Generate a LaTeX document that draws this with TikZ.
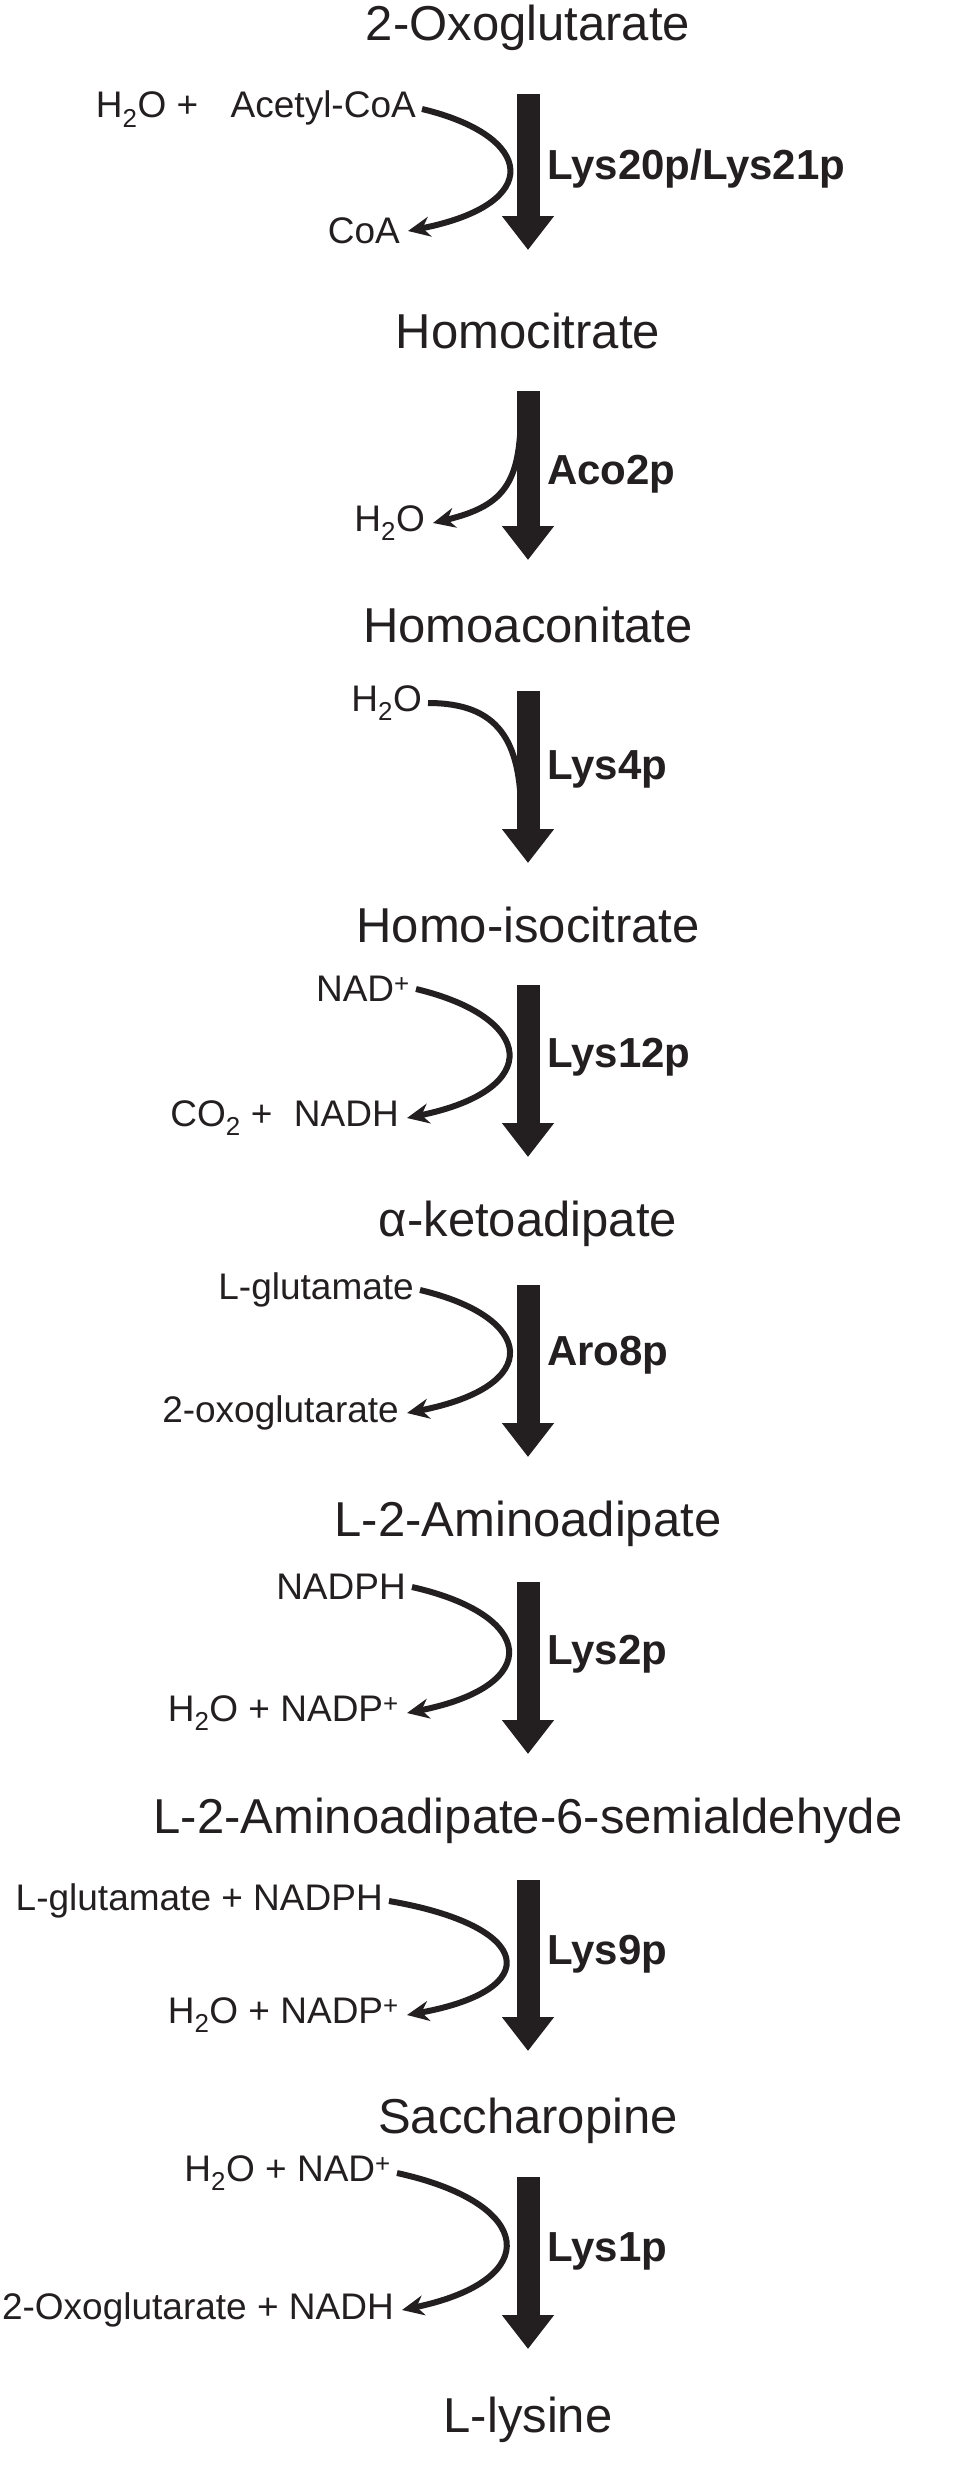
\documentclass[tikz,border=0pt]{standalone}
\usepackage{fontspec}
\setmainfont{Liberation Sans}
\usetikzlibrary{arrows.meta}
\definecolor{ink}{HTML}{231F20}
\begin{document}
\begin{tikzpicture}[x=1pt,y=-1pt,
  met/.style={font=\fontsize{49}{54}\selectfont,text=ink,inner sep=0},
  lab/.style={font=\fontsize{37}{42}\selectfont,text=ink,anchor=east,inner sep=0},
  enz/.style={font=\fontsize{42}{46}\selectfont\bfseries,text=ink,anchor=west,inner sep=0},
  main/.style={draw=ink,line width=23pt,-{Triangle[width=50pt,length=34pt]}},
  curv/.style={draw=ink,line width=6pt,-{Stealth[length=22pt,width=20pt]}},
  curvn/.style={draw=ink,line width=6pt}]
\useasboundingbox (0,0) rectangle (977,2465);
% metabolites
\node[met] (m0) at (528,28) {2-Oxoglutarate};
\node[met] (m1) at (528,331) {Homocitrate};
\node[met] (m2) at (528,625) {Homoaconitate};
\node[met] (m3) at (528,925) {Homo-isocitrate};
\node[met] (m4) at (528,1224) {α-ketoadipate};
\node[met] (m5) at (528,1524) {L-2-Aminoadipate};
\node[met] (m6) at (528,1821) {L-2-Aminoadipate-6-semialdehyde};
\node[met] (m7) at (528,2121) {Saccharopine};
\node[met] (m8) at (528,2420) {L-lysine};
% main arrows
\foreach \i/\a/\b in {1/94/250,2/391/560,3/691/863,4/985/1157,5/1285/1457,6/1582/1754,7/1880/2051,8/2177/2349}{
  \coordinate (t\i) at (528,\a); \coordinate (b\i) at (528,\b);
  \draw[main] (t\i) -- (b\i);
}
% enzymes
\node[enz] (e1) at (547,169) {Lys20p/Lys21p};
\node[enz] (e2) at (547,474) {Aco2p};
\node[enz] (e3) at (547,769) {Lys4p};
\node[enz] (e4) at (547,1057) {Lys12p};
\node[enz] (e5) at (547,1355) {Aro8p};
\node[enz] (e6) at (547,1654) {Lys2p};
\node[enz] (e7) at (547,1954) {Lys9p};
\node[enz] (e8) at (547,2251) {Lys1p};
% step 1
\node[lab] (s1) at (416,109) {H\textsubscript{2}O +\hspace{0.6em} Acetyl-CoA};
\node[lab] (p1) at (400,231) {CoA};
\draw[curv] ([xshift=6pt]s1.east) .. controls (535,136) and (545,204) .. ([xshift=8pt]p1.east);
% step 2
\node[lab] (p2) at (425,523) {H\textsubscript{2}O};
\coordinate (c2) at (521,405);
\draw[curv] (c2) .. controls (521,480) and (508,505) .. ([xshift=8pt]p2.east);
% step 3
\node[lab] (s3) at (422,703) {H\textsubscript{2}O};
\coordinate (c3) at (521,815);
\draw[curvn] ([xshift=6pt]s3.east) .. controls (498,703) and (521,740) .. (c3);
% steps 4-8
\node[lab] (s4) at (410,989) {NAD\textsuperscript{+}};
\node[lab] (p4) at (399,1118) {CO\textsubscript{2} +\hspace{0.3em} NADH};
\node[lab] (s5) at (414,1290) {L-glutamate};
\node[lab] (p5) at (399,1413) {2-oxoglutarate};
\node[lab] (s6) at (406,1587) {NADPH};
\node[lab] (p6) at (399,1713) {H\textsubscript{2}O + NADP\textsuperscript{+}};
\node[lab] (s7) at (383,1901) {L-glutamate + NADPH};
\node[lab] (p7) at (399,2015) {H\textsubscript{2}O + NADP\textsuperscript{+}};
\node[lab] (s8) at (391,2173) {H\textsubscript{2}O + NAD\textsuperscript{+}};
\node[lab] (p8) at (394,2310) {2-Oxoglutarate + NADH};
\foreach \i/\y/\h in {4/989/129,5/1290/123,6/1587/126,7/1901/114,8/2173/137}{
  \draw[curv] ([xshift=6pt]s\i.east) .. controls (535,{\y+0.22*\h}) and (545,{\y+0.78*\h}) .. ([xshift=8pt]p\i.east);
}
\end{tikzpicture}
\end{document}
